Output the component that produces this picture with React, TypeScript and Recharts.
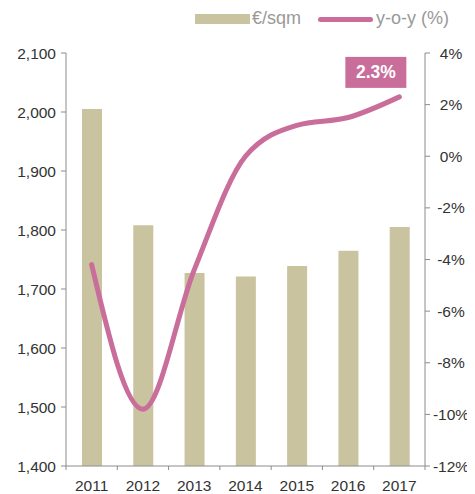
import React from "react";
import {
  ComposedChart,
  Bar,
  Line,
  XAxis,
  YAxis,
  Legend,
} from "recharts";

const years = ["2011", "2012", "2013", "2014", "2015", "2016", "2017"];
const pricePerSqm = [2005, 1808, 1727, 1721, 1739, 1765, 1805];
const yoyChange = [-4.2, -9.8, -4.4, 0.0, 1.2, 1.5, 2.3];

const leftTicks = [1400, 1500, 1600, 1700, 1800, 1900, 2000, 2100];
const rightTicks = [-12, -10, -8, -6, -4, -2, 0, 2, 4];

const data = years.map((year, i) => ({
  year,
  price: pricePerSqm[i],
  yoy: yoyChange[i],
}));

const W = 467;
const H = 486;
const LEFT_W = 58;
const RIGHT_W = 50;
const BAND = (W - LEFT_W - RIGHT_W) / years.length;

const FONT = "'Liberation Sans', Arial, Helvetica, sans-serif";
const BAR_COLOR = "#c9c3a0";
const LINE_COLOR = "#c96d9b";
const AXIS_COLOR = "#8c8c8c";
const TEXT_COLOR = "#333333";

const fmtThousands = (v: number) => v.toLocaleString("en-US");

const YearTick = (props: any) => {
  const { x, y, payload, index } = props;
  const last = index === years.length - 1;
  return (
    <g>
      <line x1={x - BAND / 2} x2={x - BAND / 2} y1={y - 8} y2={y - 4} stroke={AXIS_COLOR} />
      {last && (
        <line x1={x + BAND / 2} x2={x + BAND / 2} y1={y - 8} y2={y - 4} stroke={AXIS_COLOR} />
      )}
      <text x={x} y={y + 17} textAnchor="middle" fill={TEXT_COLOR} fontSize={15.5} fontFamily={FONT}>
        {payload.value}
      </text>
    </g>
  );
};

const LastLabel = (props: any) => {
  const { x, y, index, value } = props;
  if (index !== years.length - 1) return null;
  return (
    <g>
      <rect x={x - 54} y={y - 40} width={61} height={31} fill={LINE_COLOR} />
      <text
        x={x - 23.5}
        y={y - 18.5}
        textAnchor="middle"
        fill="#ffffff"
        fontSize={17.5}
        fontWeight="bold"
        fontFamily={FONT}
      >
        {`${value}%`}
      </text>
    </g>
  );
};

const LegendContent = () => (
  <div style={{ position: "relative", height: 30, fontFamily: FONT, fontSize: 18, color: "#999999" }}>
    <div style={{ position: "absolute", left: 187, top: 6, width: 55, height: 10, background: BAR_COLOR }} />
    <span style={{ position: "absolute", left: 244, top: 0 }}>€/sqm</span>
    <div
      style={{
        position: "absolute",
        left: 310,
        top: 9,
        width: 55,
        height: 5,
        borderRadius: 3,
        background: LINE_COLOR,
      }}
    />
    <span style={{ position: "absolute", left: 368, top: 0 }}>y-o-y (%)</span>
  </div>
);

export default function App() {
  return (
    <div style={{ width: W, height: H }}>
      <ComposedChart
        width={W}
        height={H}
        data={data}
        margin={{ top: 15, right: 0, bottom: 0, left: 0 }}
      >
        <Legend
          verticalAlign="top"
          align="left"
          content={<LegendContent />}
          wrapperStyle={{ top: 0, left: 0, width: W, height: 30 }}
        />
        <XAxis
          dataKey="year"
          height={28}
          axisLine={{ stroke: AXIS_COLOR }}
          tickLine={false}
          tick={<YearTick />}
          interval={0}
        />
        <YAxis
          yAxisId="left"
          width={LEFT_W}
          domain={[1400, 2100]}
          ticks={leftTicks}
          tickFormatter={fmtThousands}
          axisLine={{ stroke: AXIS_COLOR }}
          tickLine={{ stroke: AXIS_COLOR }}
          tickSize={5}
          tick={{ fill: TEXT_COLOR, fontSize: 15.5, fontFamily: FONT, dx: -3 }}
        />
        <YAxis
          yAxisId="right"
          orientation="right"
          width={RIGHT_W}
          domain={[-12, 4]}
          ticks={rightTicks}
          tickFormatter={(v) => `${v}%`}
          axisLine={{ stroke: AXIS_COLOR }}
          tickLine={{ stroke: AXIS_COLOR }}
          tickSize={5}
          tick={{ fill: TEXT_COLOR, fontSize: 15.5, fontFamily: FONT, textAnchor: "middle", dx: 19 }}
        />
        <Bar
          yAxisId="left"
          dataKey="price"
          name="€/sqm"
          fill={BAR_COLOR}
          barSize={20}
          isAnimationActive={false}
        />
        <Line
          yAxisId="right"
          type="monotone"
          dataKey="yoy"
          name="y-o-y (%)"
          stroke={LINE_COLOR}
          strokeWidth={5}
          strokeLinecap="round"
          dot={false}
          label={<LastLabel />}
          isAnimationActive={false}
        />
      </ComposedChart>
    </div>
  );
}
